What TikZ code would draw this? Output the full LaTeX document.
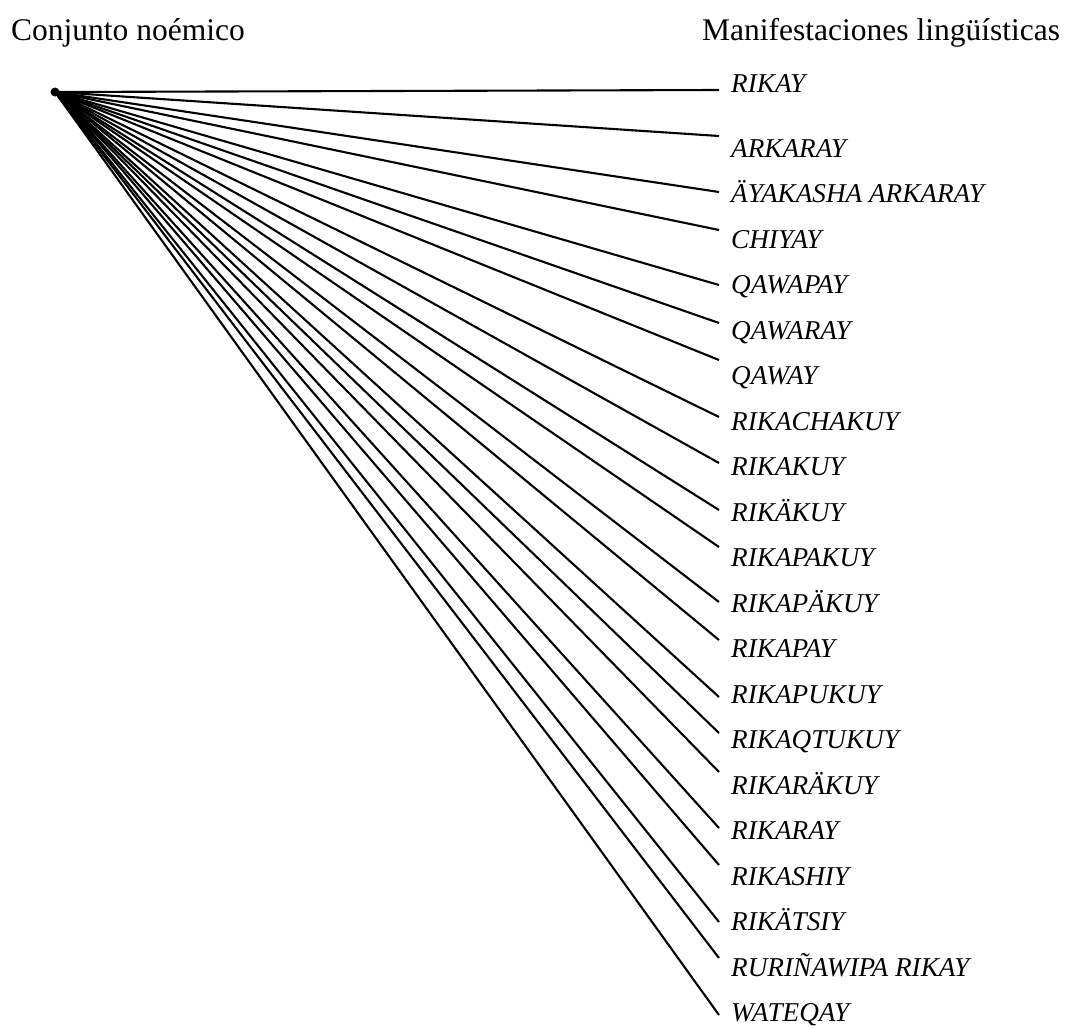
\documentclass[tikz,border=0pt]{standalone}
\usepackage{fontspec}
\setmainfont{Liberation Serif}
\begin{document}
\begin{tikzpicture}[x=1pt,y=-1pt,
  hdr/.style={inner sep=0pt,anchor=base west,font=\fontsize{31.5}{37}\selectfont},
  lbl/.style={inner sep=0pt,anchor=base west,font=\fontsize{27.2}{32}\selectfont\itshape},
  ray/.style={line width=2.1pt}]
\useasboundingbox (0,0) rectangle (1067,1028);
\node[hdr] (h1) at (11,40) {Conjunto noémico};
\node[hdr] (h2) at (702,40) {Manifestaciones lingüísticas};
\node[circle,fill=black,inner sep=0pt,minimum size=9pt] (dot) at (55,92) {};
\foreach \i/\ey/\by/\t in {
  1/90/92/RIKAY,
  2/136/157/ARKARAY,
  3/192/202.5/ÄYAKASHA ARKARAY,
  4/230/248/CHIYAY,
  5/285/293.5/QAWAPAY,
  6/323/339/QAWARAY,
  7/360/384.5/QAWAY,
  8/417/430/RIKACHAKUY,
  9/463/475.5/RIKAKUY,
  10/510/521/RIKÄKUY,
  11/547/566.5/RIKAPAKUY,
  12/602/612/RIKAPÄKUY,
  13/640/657.5/RIKAPAY,
  14/697/703/RIKAPUKUY,
  15/733/748.5/RIKAQTUKUY,
  16/772/794/RIKARÄKUY,
  17/828/839.5/RIKARAY,
  18/865/885/RIKASHIY,
  19/922/930.5/RIKÄTSIY,
  20/958/976/RURIÑAWIPA RIKAY,
  21/1015/1021.5/WATEQAY}{
  \coordinate (e\i) at (719,\ey);
  \node[lbl] (l\i) at (731,\by) {\t};
  \draw[ray] (dot.center) -- (e\i);
}
\end{tikzpicture}
\end{document}
